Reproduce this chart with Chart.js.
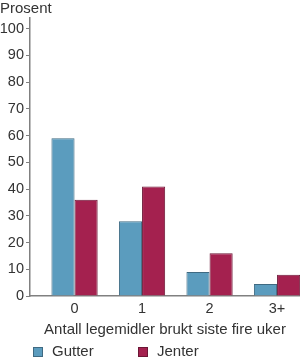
<!DOCTYPE html>
<html>
<head>
<meta charset="utf-8">
<script src="https://cdn.jsdelivr.net/npm/chart.js@4"></script>
<style>
  html, body { margin: 0; padding: 0; background: #fff; }
  #wrap { position: relative; width: 300px; height: 359px; overflow: hidden; }
  #legend { position: absolute; left: 33px; top: 342px; font: 15px "Liberation Sans", Arial, sans-serif; color: #333; }
  #legend span.item { position: absolute; white-space: nowrap; line-height: 18px; }
  #legend span.box { display: inline-block; width: 8px; height: 8px; vertical-align: -1px; margin-right: 9px; }
</style>
</head>
<body>
<div id="wrap">
  <canvas id="chart" width="300" height="359"></canvas>
  <div id="legend"></div>
</div>
<script>
// ==========================
// DATA
// ==========================
const categories = ["0", "1", "2", "3+"];
const gutter = [59, 28, 9, 4.5];
const jenter = [36, 41, 16, 8];
const seriesNames = ["Gutter", "Jenter"];
const yTicks = [0, 10, 20, 30, 40, 50, 60, 70, 80, 90, 100];

const fillColors = ["#5b9cbe", "#a4214f"];
const borderColors = ["#3f6a82", "#6c1736"];
const font = "'Liberation Sans', Arial, sans-serif";

// ==========================
// CHART
// ==========================
const ctx = document.getElementById("chart");
new Chart(ctx, {
    type: "bar",
    data: {
        datasets: [
            {
                label: seriesNames[0],
                data: gutter.map((v, i) => ({ x: i, y: v })),
                backgroundColor: fillColors[0],
                borderColor: borderColors[0],
                borderWidth: 1
            },
            {
                label: seriesNames[1],
                data: jenter.map((v, i) => ({ x: i, y: v })),
                backgroundColor: fillColors[1],
                borderColor: borderColors[1],
                borderWidth: 1
            }
        ]
    },
    options: {
        responsive: false,
        animation: false,
        layout: { padding: { left: 0, right: 0, top: 0, bottom: 15 } },
        categoryPercentage: 0.685,
        barPercentage: 1,
        plugins: {
            legend: { display: false },
            tooltip: { enabled: false },
            title: {
                display: true,
                text: "Prosent",
                align: "start",
                color: "#333",
                font: { family: font, size: 15, weight: "normal" },
                padding: { top: 0, bottom: 0 }
            }
        },
        scales: {
            x: {
                type: "linear",
                offset: false,
                min: -0.66,
                max: 3.34,
                afterBuildTicks: s => { s.ticks = categories.map((c, i) => ({ value: i })); },
                ticks: {
                    callback: v => categories[v],
                    color: "#333",
                    font: { family: font, size: 14.5 },
                    padding: 4,
                    maxRotation: 0
                },
                grid: { display: false, drawTicks: false, offset: false },
                border: { display: true, color: "#808080", width: 1.5 },
                title: {
                    display: true,
                    text: "Antall legemidler brukt siste fire uker",
                    color: "#333",
                    font: { family: font, size: 15, lineHeight: 1.1 },
                    padding: { top: 0, bottom: 6 }
                }
            },
            y: {
                min: 0,
                max: 104,
                afterBuildTicks: s => { s.ticks = yTicks.map(v => ({ value: v })); },
                afterFit: s => { s.width = 30; },
                ticks: {
                    color: "#333",
                    font: { family: font, size: 14.5 },
                    padding: 2
                },
                grid: { drawOnChartArea: false, drawTicks: true, tickLength: 4, color: "#808080" },
                border: { display: true, color: "#808080", width: 1.5 }
            }
        }
    }
});

// ==========================
// LEGEND (html)
// ==========================
const legend = document.getElementById("legend");
const legendX = [0, 105];
seriesNames.forEach((name, i) => {
    legend.innerHTML += `<span class="item" style="left:${legendX[i]}px"><span class="box" style="background:${fillColors[i]};border:1px solid ${borderColors[i]}"></span>${name}</span>`;
});
</script>
</body>
</html>
